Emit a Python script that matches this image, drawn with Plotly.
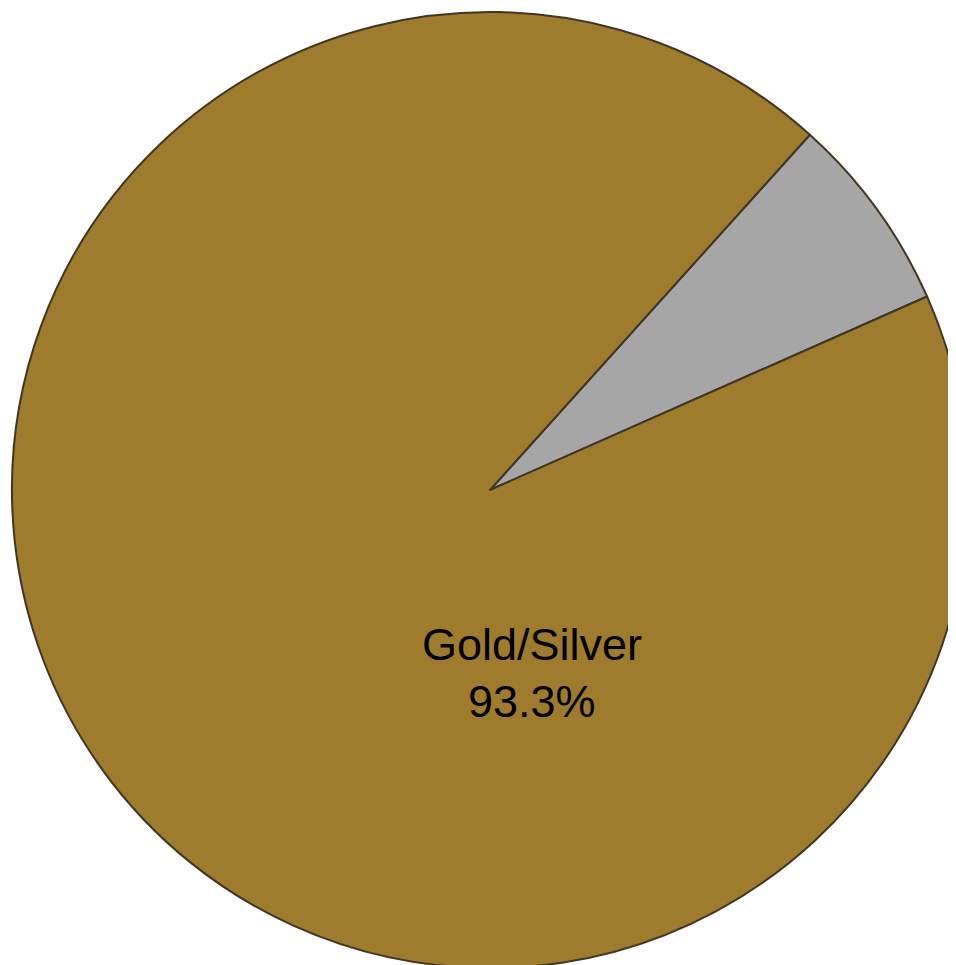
import plotly.graph_objects as go

labels = ["Other", "Gold/Silver"]
values = [6.7, 93.3]
colors = ["#A6A6A6", "#9E7B2D"]

W, H = 980, 980
cx, cy, r = 482, 482, 478

fig = go.Figure(go.Pie(
    labels=labels,
    values=values,
    sort=False,
    direction="clockwise",
    rotation=42,
    textinfo="none",
    marker=dict(colors=colors, line=dict(color="#3f3626", width=2)),
    domain=dict(x=[(cx - r) / W, (cx + r) / W], y=[1 - (cy + r) / H, 1 - (cy - r) / H]),
    showlegend=False,
))

font = dict(family="Liberation Sans Narrow, Arial Narrow, Liberation Sans, sans-serif", size=45, color="#000000")
fig.add_annotation(x=524 / W, y=1 - 636 / H, xref="paper", yref="paper",
                   text=labels[1], showarrow=False, font=font, xanchor="center", yanchor="middle")
fig.add_annotation(x=524 / W, y=1 - 693 / H, xref="paper", yref="paper",
                   text=f"{values[1]:.1f}%", showarrow=False, font=font, xanchor="center", yanchor="middle")

fig.update_layout(width=W, height=H, margin=dict(l=0, r=0, t=0, b=0),
                  paper_bgcolor="white", plot_bgcolor="white")

fig.write_html("out.html", post_script="document.body.style.overflow='hidden';document.documentElement.style.overflow='hidden';")
